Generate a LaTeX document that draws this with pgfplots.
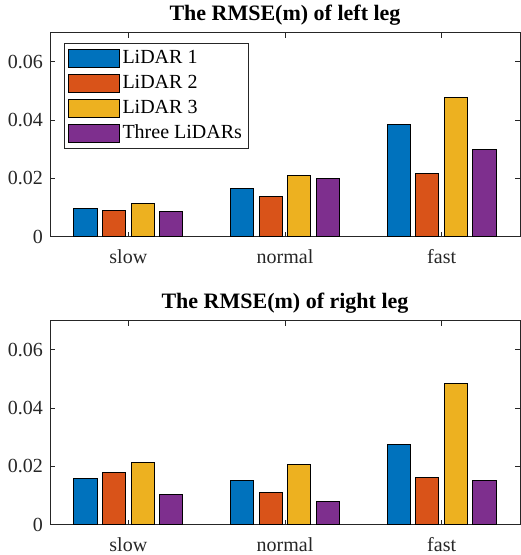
\documentclass[border=0pt]{standalone}
\usepackage{pgfplots}
\pgfplotsset{compat=1.18}
\usepackage{fontspec}
\setmainfont{Liberation Serif}
\definecolor{c1}{rgb}{0,0.447,0.741}
\definecolor{c2}{rgb}{0.85,0.325,0.098}
\definecolor{c3}{rgb}{0.929,0.694,0.125}
\definecolor{c4}{rgb}{0.494,0.184,0.556}
\definecolor{axgray}{rgb}{0.15,0.15,0.15}
\pgfplotsset{
  rmse/.style={
    scale only axis, width=235pt, height=102pt,
    xmin=0.5, xmax=3.5, ymin=0, ymax=0.07,
    xtick={1,2,3}, xticklabels={slow,normal,fast},
    ytick={0,0.02,0.04,0.06},
    scaled y ticks=false,
    yticklabel style={/pgf/number format/fixed, /pgf/number format/precision=2},
    /pgf/number format/assume math mode=true,
    tick align=inside, major tick length=2.5pt,
    tick style={axgray, line width=0.4pt},
    axis line style={axgray, line width=0.5pt},
    ticklabel style={font=\fontsize{10}{12}\selectfont, text=axgray},
    xticklabel style={yshift=-3pt},
    every axis title shift=0pt,
    title style={font=\bfseries\fontsize{11}{13}\selectfont},
    every axis plot/.append style={draw=black, line width=0.5pt, bar width=11.6pt},
  },
}
\begin{document}
\begin{tikzpicture}
\begin{axis}[rmse, title={The RMSE(m) of left leg},
  legend image code/.code={\draw[#1] (0pt,-4.5pt) rectangle (25.5pt,4.5pt);},
  legend style={at={(0.03,0.948)}, anchor=north west, draw=axgray, line width=0.4pt,
    font=\fontsize{10}{12}\selectfont, inner sep=1.5pt, row sep=0.5pt,
    nodes={text height=7pt, text depth=2pt, inner ysep=1.5pt, inner xsep=1.5pt}},
  legend cell align=left]
  \addplot[ybar, fill=c1, bar shift=-21.45pt] coordinates {(1,0.0097) (2,0.0167) (3,0.0386)};
  \addlegendentry{LiDAR 1}
  \addplot[ybar, fill=c2, bar shift=-7.15pt] coordinates {(1,0.0090) (2,0.0137) (3,0.0216)};
  \addlegendentry{LiDAR 2}
  \addplot[ybar, fill=c3, bar shift=7.15pt] coordinates {(1,0.0114) (2,0.0209) (3,0.0478)};
  \addlegendentry{LiDAR 3}
  \addplot[ybar, fill=c4, bar shift=21.45pt] coordinates {(1,0.0087) (2,0.0198) (3,0.0299)};
  \addlegendentry{Three LiDARs}
\end{axis}
\begin{axis}[rmse, at={(0,-144pt)}, title={The RMSE(m) of right leg}]
  \addplot[ybar, fill=c1, bar shift=-21.45pt] coordinates {(1,0.0159) (2,0.0152) (3,0.0274)};
  \addplot[ybar, fill=c2, bar shift=-7.15pt] coordinates {(1,0.0179) (2,0.0112) (3,0.0162)};
  \addplot[ybar, fill=c3, bar shift=7.15pt] coordinates {(1,0.0213) (2,0.0208) (3,0.0485)};
  \addplot[ybar, fill=c4, bar shift=21.45pt] coordinates {(1,0.0104) (2,0.0080) (3,0.0152)};
\end{axis}
\pgfresetboundingbox
\path[use as bounding box] (-25pt,-159.15pt) rectangle (235pt,118.35pt);
\end{tikzpicture}
\end{document}
